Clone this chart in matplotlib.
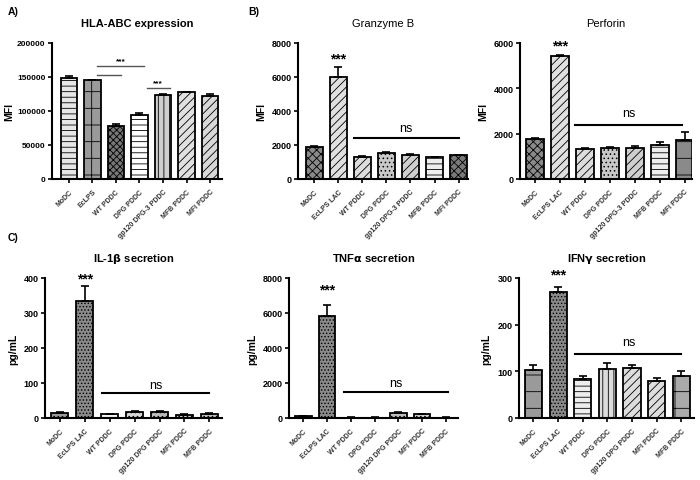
import matplotlib
matplotlib.use('Agg')
import matplotlib.pyplot as plt
import numpy as np

plt.rcParams['font.family'] = ['Liberation Sans', 'DejaVu Sans']
plt.rcParams['font.weight'] = 'bold'
plt.rcParams['hatch.linewidth'] = 0.6

# Datos
labels_a = ['MoDC', 'EcLPS', 'WT PDDC', 'DPG PDDC', 'gp120 DPG-3 PDDC', 'MFB PDDC', 'MFI PDDC']
hla = [148000, 145000, 78000, 94000, 123000, 127000, 122000]
hla_err = [3000, 1000, 2000, 3500, 1200, 800, 2500]

labels_b = ['MoDC', 'EcLPS LAC', 'WT PDDC', 'DPG PDDC', 'gp120 DPG-3 PDDC', 'MFB PDDC', 'MFI PDDC']
granz = [1850, 6000, 1300, 1500, 1400, 1280, 1380]
granz_err = [100, 550, 50, 60, 50, 30, 30]
perf = [1750, 5400, 1320, 1360, 1380, 1500, 1700]
perf_err = [60, 50, 20, 30, 60, 130, 380]

labels_c = ['MoDC', 'EcLPS LAC', 'WT PDDC', 'DPG PDDC', 'gp120 DPG PDDC', 'MFI PDDC', 'MFB PDDC']
il1b = [15, 333, 10, 17, 18, 8, 12]
il1b_err = [3, 45, 2, 4, 3, 2, 3]
tnfa = [100, 5850, 20, 20, 300, 200, 20]
tnfa_err = [30, 600, 10, 10, 40, 30, 10]
ifng = [103, 270, 84, 105, 106, 80, 90]
ifng_err = [10, 10, 5, 12, 8, 6, 10]

# estilos de barra (cor, hachura)
est_a = [('#e6e6e6', '---'), ('#9a9a9a', '-|'), ('#777777', 'xxxxx'), ('#ffffff', '---'),
         ('#cfcfcf', '|||'), ('#e0e0e0', '////'), ('#d8d8d8', '////')]
est_b = [('#8a8a8a', 'xxxx'), ('#e0e0e0', '////'), ('#dddddd', '////'), ('#c8c8c8', '....'),
         ('#cfcfcf', '////'), ('#eeeeee', '---'), ('#7a7a7a', 'xxxx')]
est_b2 = [('#8a8a8a', 'xxxx'), ('#e0e0e0', '////'), ('#dddddd', '////'), ('#c8c8c8', '....'),
          ('#cfcfcf', '////'), ('#eeeeee', '---'), ('#8a8a8a', '-|')]
est_c = [('#9a9a9a', '....'), ('#8a8a8a', '.....'), ('#f2f2f2', ''), ('#d8d8d8', '....'),
         ('#bdbdbd', '....'), ('#cfcfcf', '....'), ('#bdbdbd', '....')]
est_ifn = [('#9a9a9a', '-|'), ('#8a8a8a', '.....'), ('#eeeeee', '---'), ('#dcdcdc', '|||'),
           ('#dddddd', '////'), ('#dddddd', '////'), ('#aaaaaa', '-|')]

fig = plt.figure(figsize=(7, 4.81), dpi=100)


def painel(pos, vals, errs, labels, estilos, ymax, ystep, titulo, ylabel, xlim, ytick_fs=6.5):
    ax = fig.add_axes(pos)
    x = np.arange(len(vals))
    for i in range(len(vals)):
        cor, hatch = estilos[i]
        ax.bar(x[i], vals[i], width=0.7, color=cor, edgecolor='black', linewidth=1.3,
               hatch=hatch, zorder=2)
        ax.errorbar(x[i], vals[i], yerr=[[0], [errs[i]]], fmt='none', ecolor='black',
                    elinewidth=1.2, capsize=3, capthick=1.2, zorder=3)
    ax.set_xlim(*xlim)
    ax.set_ylim(0, ymax)
    ax.set_yticks(np.arange(0, ymax + 1, ystep))
    ax.set_xticks(x)
    ax.set_xticklabels(labels, rotation=45, ha='right', rotation_mode='anchor', fontsize=5,
                       color='#333333')
    ax.tick_params(axis='y', labelsize=ytick_fs, width=1.2, length=3, pad=1.5)
    ax.tick_params(axis='x', width=1.2, length=3)
    for s in ['top', 'right']:
        ax.spines[s].set_visible(False)
    for s in ['left', 'bottom']:
        ax.spines[s].set_linewidth(1.5)
    ax.set_title(titulo, fontsize=8, fontweight='bold', pad=12)
    ax.set_ylabel(ylabel, fontsize=7.5, fontweight='bold')
    return ax


def ns(ax, y, x0, x1, ytxt):
    ax.plot([x0, x1], [y, y], color='black', linewidth=1.5, clip_on=False)
    ax.text((x0 + x1) / 2, ytxt, 'ns', ha='center', va='center', fontsize=9, fontweight='normal')


# A) HLA-ABC
ax = painel([0.074, 0.626, 0.243, 0.283], hla, hla_err, labels_a, est_a, 200000, 50000,
            'HLA-ABC expression', 'MFI', (-0.72, 6.5), ytick_fs=6)
ax.yaxis.labelpad = 2
ax.plot([1.2, 2.2], [153000, 153000], color='#555555', linewidth=1)
ax.plot([1.2, 3.2], [166000, 166000], color='#555555', linewidth=1)
ax.text(2.2, 173000, '***', ha='center', va='center', fontsize=6)
ax.plot([3.3, 4.3], [133500, 133500], color='#555555', linewidth=1)
ax.text(3.8, 141000, '***', ha='center', va='center', fontsize=6)

# B) Granzyme B
ax = painel([0.426, 0.626, 0.243, 0.283], granz, granz_err, labels_b, est_b, 8000, 2000,
            'Granzyme B', 'MFI', (-0.66, 6.4))
ax.title.set_fontweight('normal')
ax.text(1, 7050, '***', ha='center', va='center', fontsize=10)
ns(ax, 2400, 1.65, 6.0, 3000)

# Perforin
ax = painel([0.743, 0.626, 0.246, 0.283], perf, perf_err, labels_b, est_b2, 6000, 2000,
            'Perforin', 'MFI', (-0.6, 6.3))
ax.title.set_fontweight('normal')
ax.text(1, 5900, '***', ha='center', va='center', fontsize=10)
ns(ax, 2380, 1.6, 5.9, 2900)

# C) IL-1b
ax = painel([0.064, 0.129, 0.253, 0.291], il1b, il1b_err, labels_c, est_c, 400, 100,
            r'IL-1$\mathbf{\beta}$ secretion', 'pg/mL', (-0.6, 6.5))
ax.text(1, 398, '***', ha='center', va='center', fontsize=10)
ns(ax, 72, 1.7, 6.0, 95)

# TNFa
ax = painel([0.413, 0.129, 0.241, 0.291], tnfa, tnfa_err, labels_c, est_c, 8000, 2000,
            r'TNF$\mathbf{\alpha}$ secretion', 'pg/mL', (-0.6, 6.5))
ax.text(1, 7350, '***', ha='center', va='center', fontsize=10)
ns(ax, 1470, 1.7, 6.1, 2000)

# IFNg
ax = painel([0.741, 0.129, 0.25, 0.291], ifng, ifng_err, labels_c, est_ifn, 300, 100,
            r'IFN$\mathbf{\gamma}$ secretion', 'pg/mL', (-0.6, 6.5))
ax.text(1, 307, '***', ha='center', va='center', fontsize=10)
ns(ax, 137, 1.7, 6.0, 162)

# rótulos dos painéis
fig.text(0.011, 0.975, 'A)', fontsize=7.5, fontweight='bold', va='center')
fig.text(0.354, 0.975, 'B)', fontsize=7.5, fontweight='bold', va='center')
fig.text(0.011, 0.505, 'C)', fontsize=7.5, fontweight='bold', va='center')

fig.savefig('out.png', dpi=100)
